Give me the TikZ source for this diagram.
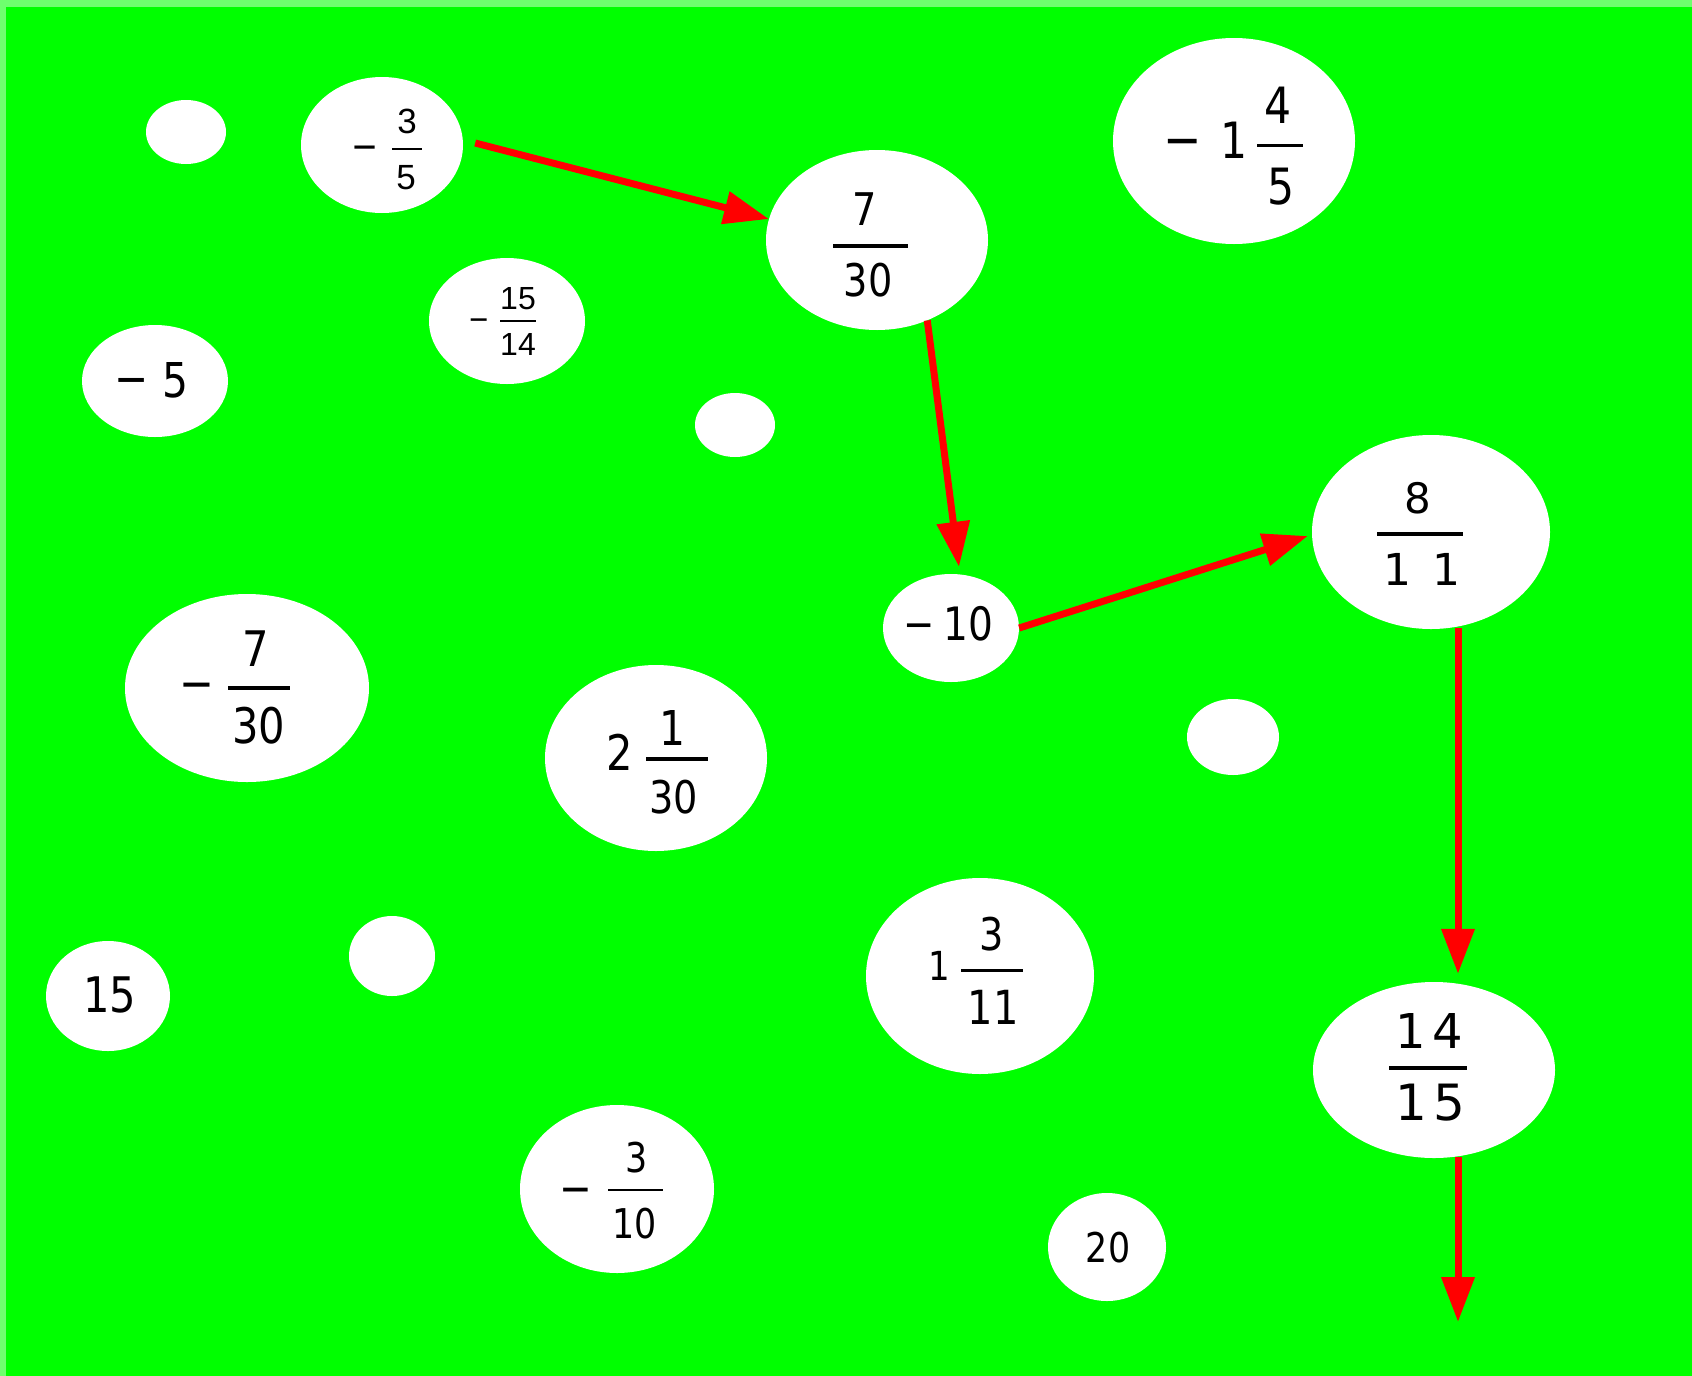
\documentclass[tikz,border=0pt]{standalone}
\usepackage{fontspec}
\usetikzlibrary{shapes.geometric,arrows.meta,calc}
\newfontfamily\nf[FakeStretch=0.85]{DejaVu Sans}
\newfontfamily\nw{DejaVu Sans}
\newfontfamily\tf{Liberation Sans}
\newcommand\myfs[1]{\fontsize{#1}{#1}\selectfont}
\definecolor{bggreen}{RGB}{0,255,0}
\definecolor{edgegreen}{RGB}{110,255,110}
\definecolor{arrred}{RGB}{255,0,0}
\begin{document}
\begin{tikzpicture}[x=1pt,y=-1pt,
  blob/.style={ellipse, fill=white, draw=none, inner sep=0pt},
  num/.style={inner sep=0pt, anchor=base, text=black},
  fbar/.style={black, line width=#1},
  fbar/.default=3pt,
  arr/.style={draw=arrred, line width=7pt, -{Triangle[length=45pt,width=32pt]}}
]
\useasboundingbox (0,0) rectangle (1692,1376);
\fill[edgegreen] (0,0) rectangle (1692,1376);
\fill[bggreen] (6,7) rectangle (1692,1376);

% ellipses
\node[blob, minimum width=80pt,  minimum height=64pt]  (A) at (186,132) {};
\node[blob, minimum width=162pt, minimum height=136pt] (B) at (382,145) {};
\node[blob, minimum width=222pt, minimum height=180pt] (C) at (877,240) {};
\node[blob, minimum width=242pt, minimum height=206pt] (D) at (1234,141) {};
\node[blob, minimum width=156pt, minimum height=126pt] (E) at (507,321) {};
\node[blob, minimum width=146pt, minimum height=112pt] (F) at (155,381) {};
\node[blob, minimum width=80pt,  minimum height=64pt]  (G) at (735,425) {};
\node[blob, minimum width=136pt, minimum height=108pt] (H) at (951,628) {};
\node[blob, minimum width=238pt, minimum height=194pt] (I) at (1431,532) {};
\node[blob, minimum width=244pt, minimum height=188pt] (J) at (247,688) {};
\node[blob, minimum width=222pt, minimum height=186pt] (K) at (656,758) {};
\node[blob, minimum width=92pt,  minimum height=76pt]  (L) at (1233,737) {};
\node[blob, minimum width=124pt, minimum height=110pt] (M) at (108,996) {};
\node[blob, minimum width=86pt,  minimum height=80pt]  (N) at (392,956) {};
\node[blob, minimum width=228pt, minimum height=196pt] (O) at (980,976) {};
\node[blob, minimum width=242pt, minimum height=176pt] (P) at (1434,1070) {};
\node[blob, minimum width=194pt, minimum height=168pt] (Q) at (617,1189) {};
\node[blob, minimum width=118pt, minimum height=108pt] (R) at (1107,1247) {};

% B: -3/5
\node[num, font=\nf\myfs{38}] (Bm) at (365,159) {−};
\node[num, font=\tf\myfs{35}] (Bn) at (407,133) {3};
\draw[fbar=2pt] (392,149) -- (422,149);
\node[num, font=\tf\myfs{35}] (Bd) at (406,189) {5};

% C: 7/30
\node[num, font=\nf\myfs{45}] (Cn) at (865,225) {7};
\draw[fbar=4pt] (833,246) -- (908,246);
\node[num, font=\nf\myfs{45}] (Cd) at (868,296) {30};

% D: -1 4/5
\node[num, font=\nf\myfs{54}] (Dm) at (1183,158) {−};
\node[num, font=\nf\myfs{50}] (Dw) at (1234,158) {1};
\node[num, font=\nf\myfs{50}] (Dn) at (1278,123) {4};
\draw[fbar=3pt] (1257,145) -- (1303,145);
\node[num, font=\nf\myfs{50}] (Dd) at (1281,204) {5};

% E: -15/14
\node[num, font=\nf\myfs{30}] (Em) at (479,329) {−};
\node[num, font=\tf\myfs{32}] (En) at (518,309) {15};
\draw[fbar=2pt] (500,321) -- (536,321);
\node[num, font=\tf\myfs{32}] (Ed) at (518,355) {14};

% F: -5
\node[num, font=\nf\myfs{48}] (Fm) at (132,395) {−};
\node[num, font=\nf\myfs{48}] (Fn) at (175,397) {5};

% H: -10
\node[num, font=\nf\myfs{44}] (Hm) at (919,639) {−};
\node[num, font=\nf\myfs{46}] (Hn) at (968,640) {10};

% I: 8/11
\node[num, font=\nw\myfs{42}] (In) at (1418,513) {8};
\draw[fbar=4pt] (1377,534) -- (1463,534);
\node[num, font=\nw\myfs{44}] (Id) at (1422,585) {1\kern21pt 1};

% J: -7/30
\node[num, font=\nf\myfs{49}] (Jm) at (197,700) {−};
\node[num, font=\nf\myfs{49}] (Jn) at (256,666) {7};
\draw[fbar=4pt] (228,688) -- (290,688);
\node[num, font=\nf\myfs{49}] (Jd) at (259,743) {30};

% K: 2 1/30
\node[num, font=\nf\myfs{49}] (Kw) at (620,770) {2};
\node[num, font=\nf\myfs{48}] (Kn) at (672,745) {1};
\draw[fbar=4pt] (646,759) -- (708,759);
\node[num, font=\nf\myfs{45}] (Kd) at (674,813) {30};

% M: 15
\node[num, font=\nf\myfs{49}] (Mn) at (110,1012) {15};

% O: 1 3/11
\node[num, font=\nf\myfs{40}] (Ow) at (939,980) {1};
\node[num, font=\nf\myfs{45}] (On) at (992,950) {3};
\draw[fbar=3pt] (961,970) -- (1023,970);
\node[num, font=\nf\myfs{47}] (Od) at (993,1024) {11};

% P: 14/15
\node[num, font=\nw\myfs{48}] (Pn) at (1429,1048) {1\kern6pt 4};
\draw[fbar=4pt] (1389,1068) -- (1467,1068);
\node[num, font=\nw\myfs{50}] (Pd) at (1430,1120) {1\kern6pt 5};

% Q: -3/10
\node[num, font=\nf\myfs{46}] (Qm) at (576,1204) {−};
\node[num, font=\nf\myfs{41}] (Qn) at (637,1172) {3};
\draw[fbar=2pt] (608,1190) -- (663,1190);
\node[num, font=\nf\myfs{41}] (Qd) at (635,1238) {10};

% R: 20
\node[num, font=\nf\myfs{41}] (Rn) at (1108,1262) {20};

% arrows
\coordinate (endpt) at (1458,1322);
\draw[arr] ($(B.east)+(12,-2)$) -- (C.169);
\draw[arr] (C.-58) -- ($(H.north)+(8,-7)$);
\draw[arr] (H.east) -- ($(I.west)+(-4,4)$);
\draw[arr] ($(I.south)+(27,-1)$) -- ($(P.north)+(24,-8)$);
\draw[arr] ($(P.south)+(24,-1)$) -- (endpt);
\end{tikzpicture}
\end{document}
